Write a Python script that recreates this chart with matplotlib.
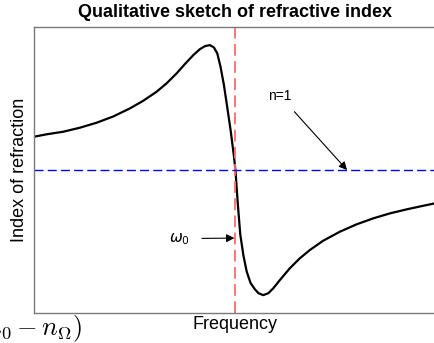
import matplotlib.pyplot as plt

plt.rcParams['font.family'] = ['Liberation Sans', 'DejaVu Sans']
plt.rcParams['mathtext.fontset'] = 'cm'

# Sketch of n(omega) around a resonance at omega_0 = 1
freq = [0.000, 0.063, 0.145, 0.228, 0.311, 0.394, 0.476, 0.543, 0.609, 0.658,
        0.708, 0.749, 0.791, 0.824, 0.849, 0.873, 0.893, 0.910, 0.926, 0.943,
        0.959, 0.976, 0.993, 1.000, 1.012, 1.024, 1.040, 1.056, 1.075, 1.097,
        1.115, 1.138, 1.163, 1.188, 1.221, 1.270, 1.320, 1.370, 1.436, 1.519,
        1.601, 1.684, 1.767, 1.850, 1.932, 2.000]
index = [1.233, 1.250, 1.268, 1.296, 1.331, 1.375, 1.431, 1.485, 1.548, 1.606,
         1.676, 1.741, 1.804, 1.846, 1.867, 1.874, 1.858, 1.816, 1.723, 1.594,
         1.443, 1.280, 1.093, 1.000, 0.760, 0.550, 0.400, 0.290, 0.210, 0.165,
         0.138, 0.125, 0.138, 0.173, 0.231, 0.313, 0.383, 0.441, 0.506, 0.569,
         0.620, 0.662, 0.697, 0.725, 0.750, 0.770]
w0 = 1.0
n_vacuum = 1.0

fig = plt.figure(figsize=(4.35, 3.43), dpi=100)
ax = fig.add_axes([0.078, 0.0875, 0.9264, 0.8335])

ax.plot(freq, index, color='black', lw=1.6, solid_joinstyle='round')
ax.axvline(w0, color='#ff6b6b', lw=1.3, dashes=(6.5, 3))
ax.axhline(n_vacuum, color='blue', lw=1.0, dashes=(6.5, 3))

ax.annotate('n=1', xy=(1.554, n_vacuum), xytext=(1.221, 1.52),
            ha='center', va='center', fontsize=10,
            arrowprops=dict(arrowstyle='-|>', color='black', lw=0.8,
                            shrinkA=6, shrinkB=0, mutation_scale=12))
ax.annotate(r'$\omega_0$', xy=(0.995, 0.524), xytext=(0.72, 0.52),
            ha='center', va='center', fontsize=11, math_fontfamily='dejavusans',
            arrowprops=dict(arrowstyle='-|>', color='black', lw=0.8,
                            shrinkA=7, shrinkB=0, mutation_scale=12))

ax.set_xlim(0, 2)
ax.set_ylim(0, 2)
ax.set_xticks([])
ax.set_yticks([])
for sp in ax.spines.values():
    sp.set_color('#7a7a7a')
    sp.set_linewidth(1.0)

ax.set_xlabel('Frequency', fontsize=13, labelpad=2)
ax.set_ylabel('Index of refraction', fontsize=13, labelpad=4)
ax.set_title('Qualitative sketch of refractive index', fontsize=13,
             fontweight='bold', pad=7)

fig.text(0.190, 0.043, r'$(n_0 - n_\Omega)$', ha='right', va='center', fontsize=19)

fig.savefig('out.png', dpi=100)
